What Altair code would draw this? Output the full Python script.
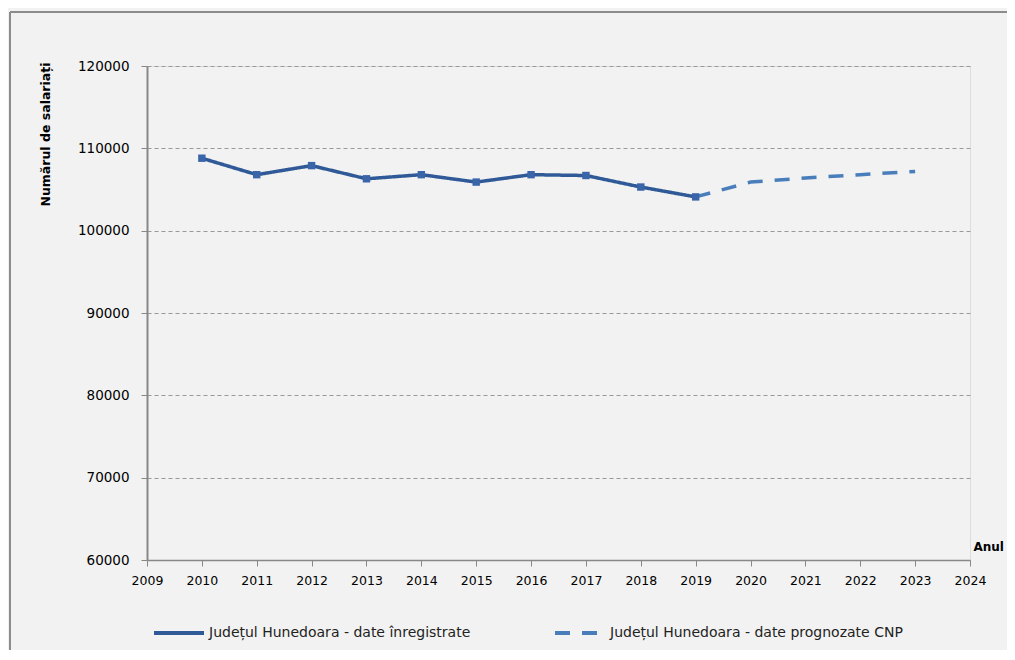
import altair as alt
import pandas as pd

years_rec = [2010, 2011, 2012, 2013, 2014, 2015, 2016, 2017, 2018, 2019]
vals_rec = [108800, 106800, 107900, 106300, 106800, 105900, 106800, 106700, 105300, 104100]
years_fc = [2019, 2020, 2021, 2022, 2023]
vals_fc = [104100, 105900, 106400, 106800, 107200]
series = ["Județul Hunedoara - date înregistrate", "Județul Hunedoara - date prognozate CNP"]
x_ticks = list(range(2009, 2025))
y_ticks = [60000, 70000, 80000, 90000, 100000, 110000, 120000]

df = pd.concat([
    pd.DataFrame({"An": years_rec, "Val": vals_rec, "Serie": series[0]}),
    pd.DataFrame({"An": years_fc, "Val": vals_fc, "Serie": series[1]}),
])
df_rec = df[df["Serie"] == series[0]]

W, H = 823, 494
FONT = "DejaVu Sans"

x = alt.X("An:Q", scale=alt.Scale(domain=[2009, 2024], nice=False, zero=False),
          axis=alt.Axis(values=x_ticks, format="d", title="Anul", grid=False,
                        labelFontSize=12.5, labelColor="#000", labelPadding=8, labelFlush=False,
                        tickSize=6, tickColor="#888", domainColor="#888", domainWidth=1.5,
                        titleX=W + 3, titleY=-14, titleAlign="left", titleBaseline="middle",
                        titleFontSize=12, titleFontWeight="bold", titleColor="#000"))
y = alt.Y("Val:Q", scale=alt.Scale(domain=[60000, 120000], nice=False, zero=False),
          axis=alt.Axis(values=y_ticks, format="d", title="Numărul de salariați",
                        labelFontSize=13.5, labelColor="#000", labelPadding=12,
                        tickSize=6, tickColor="#888", domainColor="#888", domainWidth=2,
                        grid=True, gridDash=[4, 3], gridColor="#999", gridWidth=1,
                        titleAngle=270, titleX=-102, titleY=-4, titleAlign="right",
                        titleBaseline="middle", titleFontSize=12.5, titleFontWeight="bold",
                        titleColor="#000"))

color = alt.Color("Serie:N", scale=alt.Scale(domain=series, range=["#2f5a97", "#4a7ebb"]),
                  legend=alt.Legend(title=None, orient="none", legendX=5, legendY=540,
                                    direction="horizontal", symbolType="stroke",
                                    symbolSize=2500, symbolStrokeWidth=4, labelFontSize=14,
                                    labelColor="#222", labelLimit=400, columnPadding=76,
                                    labelOffset=3))
dash = alt.StrokeDash("Serie:N", scale=alt.Scale(domain=series, range=[[1, 0], [15, 12]]),
                      legend=None)

lines = alt.Chart(df).mark_line(strokeWidth=3.5).encode(x=x, y=y, color=color, strokeDash=dash)
pts = alt.Chart(df_rec).mark_point(shape="square", filled=True, size=55, opacity=1,
                                   color="#3a65a8").encode(x="An:Q", y="Val:Q")

# outer frame lines of the chart area (decorative)
frame_top = alt.Chart(df_rec).mark_rule(color="#8c8c8c", strokeWidth=2, clip=False).encode(
    x=alt.value(-137), x2=alt.value(W + 40), y=alt.value(-54))
frame_left = alt.Chart(df_rec).mark_rule(color="#8c8c8c", strokeWidth=2, clip=False).encode(
    x=alt.value(-137), y=alt.value(-54), y2=alt.value(H + 90))

chart = alt.layer(lines, pts, frame_top, frame_left).properties(
    width=W, height=H, background="#f2f2f2",
    padding={"left": 139, "top": 58, "right": 37, "bottom": 90},
    autosize=alt.AutoSizeParams(type="none"),
).configure_view(fill="white", stroke="#aaa", strokeWidth=1).configure(font=FONT)

chart.save("out.html", embed_options={"renderer": "svg", "actions": False})
